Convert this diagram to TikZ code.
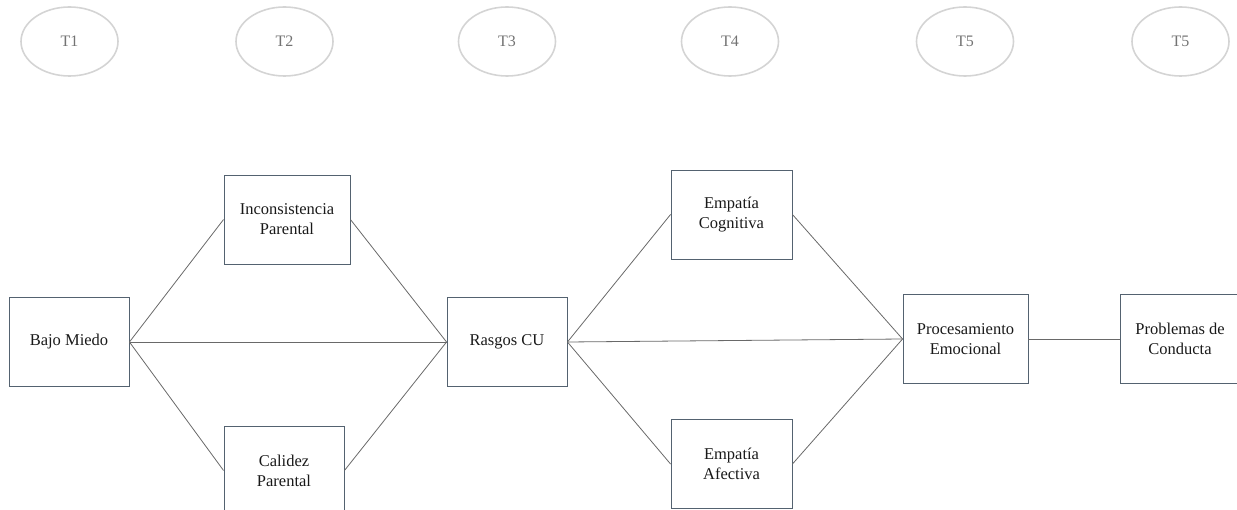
\documentclass[tikz,border=0pt]{standalone}
\usepackage{fontspec}
\setmainfont{Liberation Serif}
\usepackage{tikz}
\usetikzlibrary{positioning}
\usetikzlibrary{shapes.geometric}

\definecolor{boxline}{RGB}{84,98,112}
\definecolor{linkline}{RGB}{105,105,105}
\definecolor{timeline}{RGB}{212,212,212}
\definecolor{timetext}{RGB}{115,115,115}

\begin{document}
\begin{tikzpicture}[
            x = 1pt,
            y = -1pt,
            box/.style = {
                draw = boxline,
                rectangle,
                line width = 0.9pt,
                minimum width = #1,
                minimum height = 89pt,
                align = center,
                text = black!90,
                font = \fontsize{16.5}{20}\selectfont,
                inner sep = 0pt
            },
            box/.default = 120pt,
            time/.style = {
                draw = timeline,
                ellipse,
                line width = 1.6pt,
                minimum width = 97pt,
                minimum height = 69pt,
                inner sep = 0pt,
                text = timetext,
                font = \fontsize{16}{19}\selectfont
            },
            link/.style = {
                draw = linkline,
                line width = 0.8pt
            }
            ]
            \useasboundingbox (0,0) rectangle (1237,510);
            \clip (0,0) rectangle (1237,510);

            \node[time] (t1) at (69.5,41.5) {T1};
            \node[time] (t2) at (284.5,41.5) {T2};
            \node[time] (t3) at (507,41.5) {T3};
            \node[time] (t4) at (730,41.5) {T4};
            \node[time] (t5) at (965,41.5) {T5};
            \node[time] (t6) at (1180.5,41.5) {T5};

            \node[box] (bajo) at (69,342) {Bajo Miedo};
            \node[box=126pt] (incons) at (287,219.5) {Inconsistencia\\Parental};
            \node[box] (calidez) at (284,470.5) {Calidez\\Parental};
            \node[box] (rasgos) at (507,342) {Rasgos CU};
            \node[box=121pt] (cogn) at (731.5,214.5) {Empatía\\Cognitiva};
            \node[box=121pt] (afect) at (731.5,464) {Empatía\\Afectiva};
            \node[box=125pt] (proc) at (965.5,339) {Procesamiento\\Emocional};
            \node[box] (probl) at (1180,339) {Problemas de\\Conducta};

            \draw[link] (bajo.east) -- (incons.west);
            \draw[link] (bajo.east) -- (rasgos.west);
            \draw[link] (bajo.east) -- (calidez.west);
            \draw[link] (incons.east) -- (rasgos.west);
            \draw[link] (calidez.east) -- (rasgos.west);
            \draw[link] (rasgos.east) -- (cogn.west);
            \draw[link] (rasgos.east) -- (proc.west);
            \draw[link] (rasgos.east) -- (afect.west);
            \draw[link] (cogn.east) -- (proc.west);
            \draw[link] (afect.east) -- (proc.west);
            \draw[link] (proc.east) -- (probl.west);
        \end{tikzpicture}
\end{document}
